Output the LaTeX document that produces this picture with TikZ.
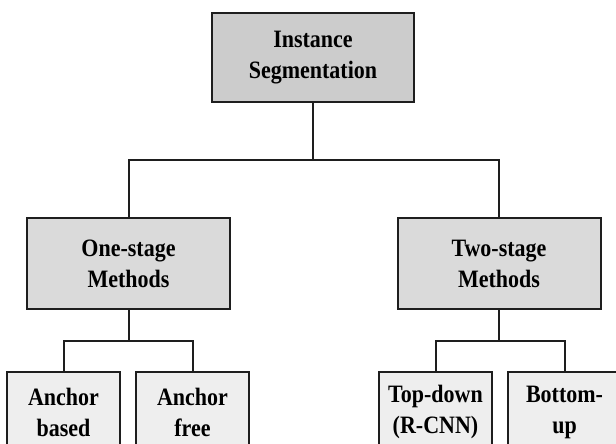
\documentclass[tikz,border=0pt]{standalone}
\usepackage{fontspec}
\setmainfont{Liberation Serif}[FakeStretch=0.88]
\usepackage{tikz}
\usetikzlibrary{positioning}
\definecolor{rootgray}{RGB}{204,204,204}
\definecolor{midgray}{RGB}{218,218,218}
\definecolor{leafgray}{RGB}{238,238,238}
\definecolor{edgegray}{RGB}{30,30,30}
\tikzset{
  treebox/.style={draw=edgegray, line width=2pt, align=center,
    inner sep=0pt, font=\fontsize{25}{31}\selectfont\bfseries},
  rootbox/.style={treebox, fill=rootgray,
    minimum width=202pt, minimum height=89pt},
  methodbox/.style={treebox, fill=midgray,
    minimum width=203pt, minimum height=91pt},
  leafbox/.style={treebox, fill=leafgray,
    minimum width=113pt, minimum height=80pt},
  link/.style={draw=edgegray, line width=2pt},
}

\begin{document}
\begin{tikzpicture}[x=1pt, y=-1pt]
  \path[use as bounding box, clip] (0,0) rectangle (616,444);

  % Root
  \node[rootbox] (root) at (313,57.5) {Instance\\Segmentation};

  % Method families
  \node[methodbox] (one) at (128.5,263.5) {One-stage\\Methods};
  \node[methodbox] (two) at (499,263.5) {Two-stage\\Methods};

  % Leaves (cut off by the page edge)
  \node[leafbox] (ab) at (63.5,412) {Anchor\\based};
  \node[leafbox] (af) at (192.5,412) {Anchor\\free};
  \node[leafbox] (td) at (435.5,412) {Top-down\\(R-CNN)};
  \node[leafbox] (bu) at (564.5,412) {Bottom-\\up};

  % Connectors
  \coordinate (j0) at (313,160);
  \coordinate (j1) at (128.5,341);
  \coordinate (j2) at (499,341);
  \draw[link] (root.south) -- (j0);
  \draw[link] (j0) -| (one.north);
  \draw[link] (j0) -| (two.north);
  \foreach \p/\a/\b in {one/j1/ab, one/j1/af, two/j2/td, two/j2/bu} {
    \draw[link] (\p.south) -- (\a) -| (\b.north);
  }
\end{tikzpicture}
\end{document}
